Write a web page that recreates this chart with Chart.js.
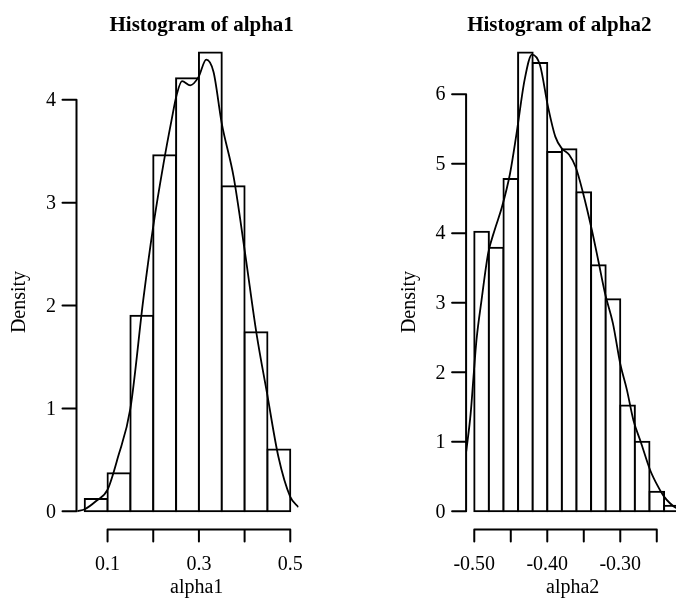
<!DOCTYPE html>
<html>
<head>
<meta charset="utf-8">
<title>Histograms of alpha1 and alpha2</title>
<script src="https://cdn.jsdelivr.net/npm/chart.js@4.4.1/dist/chart.umd.min.js"></script>
<style>
    html, body { margin: 0; padding: 0; background: #fff; overflow: hidden; }
    .panel { position: absolute; top: 0; height: 607px; }
</style>
</head>
<body>
<div class="panel" style="left:0;width:338px"><canvas id="alpha1Chart"></canvas></div>
<div class="panel" style="left:338px;width:370px"><canvas id="alpha2Chart"></canvas></div>
<script>
// alpha1 histogram (density scale)
const breaks1 = [0.05, 0.10, 0.15, 0.20, 0.25, 0.30, 0.35, 0.40, 0.45, 0.50];
const density1 = [0.12, 0.37, 1.90, 3.46, 4.21, 4.46, 3.16, 1.74, 0.60];
// density curve for alpha1
const curveX1 = [0.034, 0.05, 0.075, 0.10, 0.123, 0.15, 0.178, 0.20, 0.2225, 0.24, 0.252, 0.263,
    0.281, 0.299, 0.316, 0.332, 0.35, 0.376, 0.401, 0.426, 0.449, 0.474, 0.50, 0.518];
const curveY1 = [0.0, 0.02, 0.10, 0.21, 0.53, 1.0, 2.05, 2.77, 3.38, 3.80, 4.06, 4.18,
    4.14, 4.22, 4.39, 4.27, 3.77, 3.25, 2.51, 1.73, 1.15, 0.53, 0.14, 0.04];
const xTicks1 = [0.1, 0.2, 0.3, 0.4, 0.5];
const xTickLabels1 = ['0.1', '', '0.3', '', '0.5'];
const yTicks1 = [0, 1, 2, 3, 4];

// alpha2 histogram (density scale)
const breaks2 = [-0.50, -0.48, -0.46, -0.44, -0.42, -0.40, -0.38, -0.36, -0.34, -0.32, -0.30, -0.28, -0.26, -0.24, -0.22];
const density2 = [4.02, 3.79, 4.78, 6.60, 6.45, 5.17, 5.21, 4.59, 3.54, 3.05, 1.52, 1.00, 0.28, 0.08];
// density curve for alpha2
const curveX2 = [-0.511, -0.505, -0.501, -0.497, -0.490, -0.481, -0.472, -0.462, -0.451, -0.442, -0.431,
    -0.421, -0.410, -0.399, -0.389, -0.380, -0.370, -0.361, -0.351, -0.339, -0.330, -0.321, -0.310,
    -0.300, -0.291, -0.282, -0.272, -0.259, -0.248, -0.240, -0.224, -0.209];
const curveY2 = [0.86, 1.40, 1.94, 2.46, 3.04, 3.71, 4.05, 4.38, 4.86, 5.44, 6.21,
    6.57, 6.42, 5.82, 5.39, 5.22, 5.13, 4.95, 4.58, 4.05, 3.60, 3.14, 2.70,
    2.12, 1.75, 1.31, 1.00, 0.59, 0.35, 0.21, 0.05, 0.01];
const xTicks2 = [-0.50, -0.45, -0.40, -0.35, -0.30, -0.25];
const xTickLabels2 = ['-0.50', '', '-0.40', '', '-0.30', ''];
const yTicks2 = [0, 1, 2, 3, 4, 5, 6];

const FONT = '"Liberation Serif", "Times New Roman", serif';

// bars centred in each bin
function histBars(breaks, dens) {
    let bars = [];
    for (let i = 0; i < dens.length; i++) {
        bars.push({ x: (breaks[i] + breaks[i + 1]) / 2, y: dens[i] });
    }
    return bars;
}

function curvePoints(xs, ys) {
    let pts = [];
    for (let i = 0; i < xs.length; i++) {
        pts.push({ x: xs[i], y: ys[i] });
    }
    return pts;
}

// R style axes, titles and labels
const rAxesPlugin = {
    id: 'rAxes',
    afterDraw(chart, args, opts) {
        const ctx = chart.ctx;
        const xs = chart.scales.x;
        const ys = chart.scales.y;
        const area = chart.chartArea;
        ctx.save();
        ctx.strokeStyle = '#000';
        ctx.fillStyle = '#000';
        ctx.lineWidth = 2;
        ctx.lineCap = 'round';

        // y axis on the left edge of the plot region
        ctx.beginPath();
        ctx.moveTo(area.left, ys.getPixelForValue(opts.yTicks[0]));
        ctx.lineTo(area.left, ys.getPixelForValue(opts.yTicks[opts.yTicks.length - 1]));
        opts.yTicks.forEach(v => {
            let y = ys.getPixelForValue(v);
            ctx.moveTo(area.left, y);
            ctx.lineTo(area.left - 14, y);
        });
        // x axis on the bottom edge
        ctx.moveTo(xs.getPixelForValue(opts.xTicks[0]), area.bottom);
        ctx.lineTo(xs.getPixelForValue(opts.xTicks[opts.xTicks.length - 1]), area.bottom);
        opts.xTicks.forEach(v => {
            let x = xs.getPixelForValue(v);
            ctx.moveTo(x, area.bottom);
            ctx.lineTo(x, area.bottom + 12);
        });
        ctx.stroke();

        ctx.font = '20px ' + FONT;
        ctx.textAlign = 'right';
        ctx.textBaseline = 'middle';
        opts.yTicks.forEach(v => {
            ctx.fillText(String(v), area.left - 20.5, ys.getPixelForValue(v) + 1);
        });
        ctx.textAlign = 'center';
        ctx.textBaseline = 'alphabetic';
        opts.xTicks.forEach((v, i) => {
            if (opts.xLabels[i]) {
                ctx.fillText(opts.xLabels[i], xs.getPixelForValue(v), area.bottom + 40.5);
            }
        });
        ctx.fillText(opts.xlab, opts.xlabX, 593);

        ctx.save();
        ctx.translate(opts.ylabX, 302);
        ctx.rotate(-Math.PI / 2);
        ctx.fillText('Density', 0, 0);
        ctx.restore();

        ctx.font = 'bold 21px ' + FONT;
        ctx.fillText(opts.title, opts.titleX, 30.5);
        ctx.restore();
    }
};

function makeHist(canvasId, cfg) {
    const ctx = document.getElementById(canvasId).getContext('2d');
    return new Chart(ctx, {
        type: 'bar',
        data: {
            datasets: [{
                type: 'line',
                data: curvePoints(cfg.curveX, cfg.curveY),
                borderColor: '#000',
                borderWidth: 1.8,
                pointRadius: 0,
                cubicInterpolationMode: 'monotone',
                order: 0
            }, {
                type: 'bar',
                data: histBars(cfg.breaks, cfg.density),
                backgroundColor: '#fff',
                borderColor: '#000',
                borderWidth: 2,
                borderSkipped: false,
                inflateAmount: 1,
                barPercentage: 1,
                categoryPercentage: 1,
                order: 1
            }]
        },
        options: {
            responsive: true,
            maintainAspectRatio: false,
            animation: false,
            events: [],
            layout: { padding: cfg.padding },
            scales: {
                x: {
                    type: 'linear',
                    display: false,
                    offset: false,
                    min: cfg.xMin,
                    max: cfg.xMax,
                    ticks: { stepSize: cfg.binWidth, includeBounds: false }
                },
                y: {
                    type: 'linear',
                    display: false,
                    min: cfg.yMin,
                    max: cfg.yMax
                }
            },
            plugins: {
                legend: { display: false },
                tooltip: { enabled: false },
                rAxes: {
                    title: cfg.title,
                    titleX: cfg.titleX,
                    xlab: cfg.xlab,
                    xlabX: cfg.xlabX,
                    ylabX: cfg.ylabX,
                    xTicks: cfg.xTicks,
                    xLabels: cfg.xLabels,
                    yTicks: cfg.yTicks
                }
            }
        },
        plugins: [rAxesPlugin]
    });
}

makeHist('alpha1Chart', {
    breaks: breaks1, density: density1, curveX: curveX1, curveY: curveY1,
    binWidth: 0.05, xMin: 0.032, xMax: 0.518, yMin: -0.178, yMax: 4.638,
    padding: { left: 76.5, right: 39.5, top: 34.1, bottom: 77.4 },
    title: 'Histogram of alpha1', titleX: 201.7,
    xlab: 'alpha1', xlabX: 196.7, ylabX: 25,
    xTicks: xTicks1, xLabels: xTickLabels1, yTicks: yTicks1
});

makeHist('alpha2Chart', {
    breaks: breaks2, density: density2, curveX: curveX2, curveY: curveY2,
    binWidth: 0.02, xMin: -0.5112, xMax: -0.2088, yMin: -0.264, yMax: 6.864,
    padding: { left: 128.1, right: 21.15, top: 34.2, bottom: 77.4 },
    title: 'Histogram of alpha2', titleX: 221.3,
    xlab: 'alpha2', xlabX: 234.7, ylabX: 77,
    xTicks: xTicks2, xLabels: xTickLabels2, yTicks: yTicks2
});
</script>
</body>
</html>
